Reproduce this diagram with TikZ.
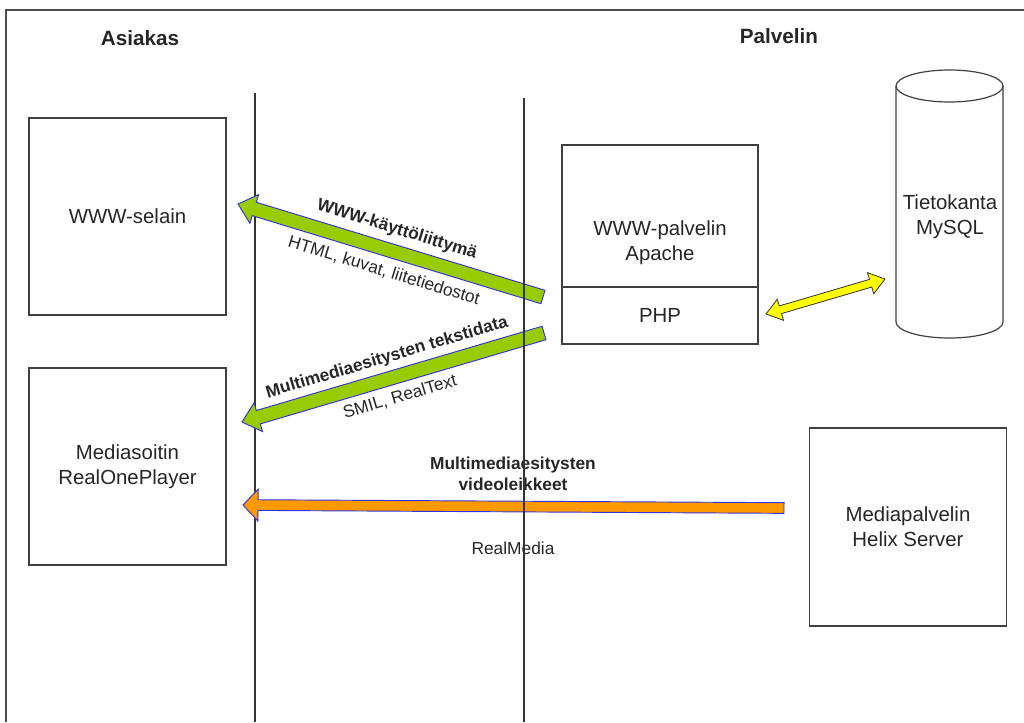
\documentclass[tikz,border=0pt]{standalone}
\usepackage{fontspec}
\setmainfont{Liberation Sans}
\usetikzlibrary{calc}

\definecolor{vihrea}{HTML}{99CC00}
\definecolor{oranssi}{HTML}{FF9900}
\definecolor{keltainen}{HTML}{FFFF00}
\definecolor{reuna}{HTML}{3333DD}

% [tyyli]{hanta}{karki}{varren puolileveys}{karjen puolileveys}{karjen pituus}
\newcommand\blockarrow[6][]{%
  \coordinate (ba-base) at ($(#3)!#6!(#2)$);
  \draw[#1] ($(#2)!#4!90:(#3)$) -- ($(ba-base)!#4!-90:(#2)$) -- ($(ba-base)!#5!-90:(#2)$) -- (#3)
    -- ($(ba-base)!#5!90:(#2)$) -- ($(ba-base)!#4!90:(#2)$) -- ($(#2)!#4!-90:(#3)$) -- cycle;
}
\newcommand\dblarrow[6][]{%
  \coordinate (da-a) at ($(#2)!#6!(#3)$);
  \coordinate (da-b) at ($(#3)!#6!(#2)$);
  \draw[#1] (#2) -- ($(da-a)!#5!90:(#3)$) -- ($(da-a)!#4!90:(#3)$) -- ($(da-b)!#4!-90:(#2)$)
    -- ($(da-b)!#5!-90:(#2)$) -- (#3) -- ($(da-b)!#5!90:(#2)$) -- ($(da-b)!#4!90:(#2)$)
    -- ($(da-a)!#4!-90:(#3)$) -- ($(da-a)!#5!-90:(#3)$) -- cycle;
}

\begin{document}
\begin{tikzpicture}[x=0.75pt,y=-0.75pt,
    every node/.style={text=black!85, align=center, inner sep=0pt},
    box/.style={draw=black!75, line width=0.9pt, minimum width=147.75pt, minimum height=147.75pt},
    teksti/.style={font=\fontsize{15.3}{18.6}\selectfont},
    otsikko/.style={font=\fontsize{15.5}{18.6}\selectfont\bfseries},
    selite/.style={font=\fontsize{13}{15.8}\selectfont},
    selitebf/.style={font=\fontsize{13}{15.8}\selectfont\bfseries},
    nuoli/.style={draw=reuna, line width=0.7pt, line join=miter}]
  \useasboundingbox (0,0) rectangle (1024,722);
  % kehys ja otsikot
  \draw[black!70, line width=1.5pt] (6,722) -- (6,10) -- (1024,10);
  \node[otsikko] (asiakas) at (140,38) {Asiakas};
  \node[otsikko] (palvelin) at (779,36) {Palvelin};
  \draw[black!80, line width=0.9pt] (255,93) -- (255,722);
  % asiakas
  \node[box, teksti] (selain) at (127.5,216.5) {WWW-selain};
  \node[box, teksti] (soitin) at (127.5,466.5) {Mediasoitin\\RealOnePlayer};
  % palvelin
  \node[box, minimum width=147pt, minimum height=149.25pt] (www) at (660,244.5) {};
  \coordinate (jako) at (0,287);
  \draw[black!75, line width=0.9pt] (www.west |- jako) -- (www.east |- jako);
  \node[teksti] (apache) at (660,243) {WWW-palvelin\\Apache};
  \node[teksti] (php) at (660,315) {PHP};
  \node[box, teksti, minimum height=148.5pt] (helix) at (908,527) {Mediapalvelin\\Helix Server};
  \draw[black!75, line width=0.9pt, fill=white] (896,86) -- (896,322)
    arc[start angle=180, end angle=0, x radius=53.5, y radius=16] -- (1003,86);
  \draw[black!75, line width=0.9pt] (949.5,86) ellipse[x radius=53.5, y radius=16];
  \node[teksti] (kanta) at (950,217) {Tietokanta\\MySQL};
  % nuolet
  \coordinate (g1a) at (543,297);
  \coordinate (g1b) at (238,204);
  \coordinate (g2a) at (544,333);
  \coordinate (g2b) at (242,422);
  \coordinate (o1a) at (784,508);
  \coordinate (o1b) at (243,505);
  \coordinate (k1a) at (766,314);
  \coordinate (k1b) at (885,279);
  \blockarrow[nuoli, fill=vihrea]{g1a}{g1b}{5.25pt}{11.25pt}{12.75pt}
  \blockarrow[nuoli, fill=vihrea]{g2a}{g2b}{5.25pt}{11.25pt}{12.75pt}
  \blockarrow[nuoli, fill=oranssi]{o1a}{o1b}{4pt}{12pt}{11.25pt}
  \dblarrow[draw=black!80, line width=0.6pt, line join=miter, fill=keltainen]{k1a}{k1b}{3pt}{8.25pt}{11.25pt}
  \node[selitebf, rotate=-17] (l1) at (397,230) {WWW-käyttöliittymä};
  \node[selite, rotate=-17] (l1b) at (384,271) {HTML, kuvat, liitetiedostot};
  \node[selitebf, rotate=16.5] (l2) at (387,358) {Multimediaesitysten tekstidata};
  \node[selite, rotate=16.5] (l2b) at (400,397) {SMIL, RealText};
  \node[selitebf] (l3) at (513,474) {Multimediaesitysten\\videoleikkeet};
  \node[selite] (l3b) at (513,548) {RealMedia};
  \draw[black!80, line width=0.9pt] (524,98) -- (524,722);
\end{tikzpicture}
\end{document}
